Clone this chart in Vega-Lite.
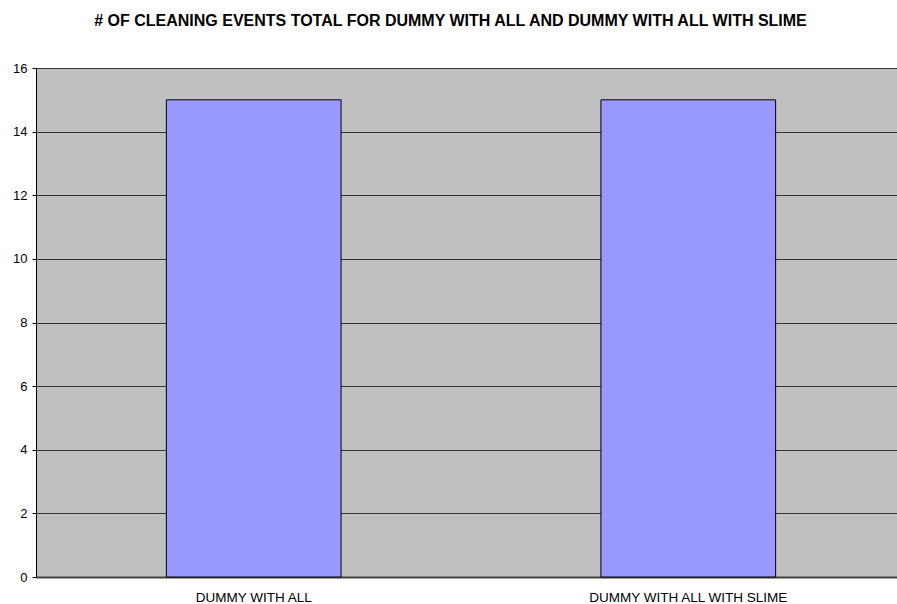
{
  "$schema": "https://vega.github.io/schema/vega-lite/v6.json",
  "width": 861,
  "height": 509,
  "autosize": "none",
  "padding": {"left": 36, "top": 68, "right": 0, "bottom": 27},
  "background": "white",
  "title": {
    "text": "# OF CLEANING EVENTS TOTAL FOR DUMMY WITH ALL AND DUMMY WITH ALL WITH SLIME",
    "font": "Liberation Sans",
    "fontSize": 16,
    "fontWeight": "bold",
    "color": "black",
    "anchor": "middle",
    "dx": -16,
    "offset": 33
  },
  "data": {
    "values": [
      {"category": "DUMMY WITH ALL", "count": 15},
      {"category": "DUMMY WITH ALL WITH SLIME", "count": 15}
    ]
  },
  "mark": {"type": "bar", "color": "#9999ff", "stroke": "black", "strokeWidth": 1},
  "encoding": {
    "x": {
      "field": "category",
      "type": "nominal",
      "sort": null,
      "scale": {"range": [0, 870], "paddingInner": 0.598, "paddingOuter": 0.3},
      "axis": {
        "title": null,
        "labelAngle": 0,
        "labelFont": "Liberation Sans",
        "labelFontSize": 13.5,
        "labelColor": "black",
        "labelPadding": 13,
        "labelLimit": 0,
        "ticks": false,
        "domain": true,
        "domainColor": "#404040",
        "domainWidth": 2,
        "grid": false
      }
    },
    "y": {
      "field": "count",
      "type": "quantitative",
      "scale": {"domain": [0, 16], "nice": false},
      "axis": {
        "title": null,
        "values": [0, 2, 4, 6, 8, 10, 12, 14, 16],
        "labelFont": "Liberation Sans",
        "labelFontSize": 13,
        "labelColor": "black",
        "labelPadding": 5,
        "tickColor": "black",
        "tickSize": 4,
        "domain": true,
        "domainColor": "black",
        "grid": true,
        "gridColor": "#333333",
        "gridOpacity": 1,
        "gridWidth": 1
      }
    }
  },
  "config": {
    "view": {"fill": "#c0c0c0", "stroke": null}
  }
}
